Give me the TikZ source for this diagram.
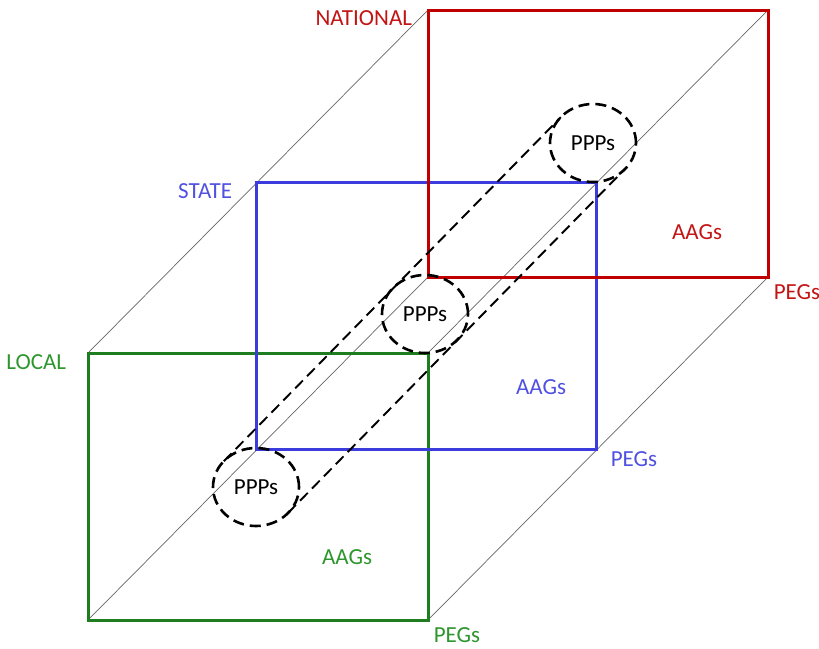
\documentclass[tikz,border=0pt]{standalone}
\usepackage{fontspec}
\setmainfont{Carlito}
\usetikzlibrary{shapes.geometric,calc}
\definecolor{natred}{RGB}{192,0,0}
\definecolor{stblue}{RGB}{60,60,220}
\definecolor{locgreen}{RGB}{30,125,30}
\definecolor{natredtxt}{RGB}{195,20,20}
\definecolor{stbluetxt}{RGB}{80,80,225}
\definecolor{locgreentxt}{RGB}{45,150,45}
\tikzset{
  x=1pt, y=-1pt,
  every node/.style={font=\fontsize{23}{27}\selectfont, inner sep=0pt, outer sep=0pt},
  level/.style={draw=#1, line width=3pt, minimum width=340pt, minimum height=267pt, rectangle},
  guide/.style={draw=black!60, line width=0.7pt},
  ppp/.style={ellipse, draw=black, line width=2.6pt, dash pattern=on 11pt off 6pt,
              minimum width=86pt, minimum height=78pt},
  tube/.style={draw=black, line width=1.9pt, dash pattern=on 11pt off 6pt},
}
\begin{document}
\begin{tikzpicture}
\useasboundingbox (0,0) rectangle (819,648);

% the three levels of government
\node[level=locgreen] (loc) at (258,486.5) {};
\node[level=stblue]   (st)  at (426,316) {};
\node[level=natred]   (nat) at (598,143.5) {};

% depth edges joining the corners
\draw[guide] (loc.north west) -- (nat.north west);
\draw[guide] (loc.north east) -- (nat.north east);
\draw[guide] (loc.south west) -- (nat.south west);
\draw[guide] (loc.south east) -- (nat.south east);

% redraw frames above the edges
\node[level=locgreen] at (258,486.5) {};
\node[level=stblue]   at (426,316) {};
\node[level=natred]   at (598,143.5) {};

% partnerships crossing the levels
\node[ppp] (p1) at (256,487) {PPPs};
\node[ppp] (p2) at (425,314) {PPPs};
\node[ppp] (p3) at (593,143) {PPPs};
\draw[tube] ($(p1.center)+(-32.2,-25.8)$) -- ($(p3.center)+(-32.2,-25.8)$);
\draw[tube] ($(p1.center)+(32.2,25.8)$) -- ($(p3.center)+(32.2,25.8)$);

% level names
\node[text=natredtxt, anchor=east]   (lnat) at (412,18)  {NATIONAL};
\node[text=stbluetxt, anchor=east]   (lst)  at (232,191) {STATE};
\node[text=locgreentxt, anchor=east] (lloc) at (66,362)  {LOCAL};

% groups within each level
\node[text=locgreentxt] (aloc) at (347,557) {AAGs};
\node[text=stbluetxt]   (ast)  at (541,387) {AAGs};
\node[text=natredtxt]   (anat) at (697,232) {AAGs};
\node[text=locgreentxt] (eloc) at (457,635) {PEGs};
\node[text=stbluetxt]   (est)  at (634,459) {PEGs};
\node[text=natredtxt]   (enat) at (797,292) {PEGs};
\end{tikzpicture}
\end{document}
